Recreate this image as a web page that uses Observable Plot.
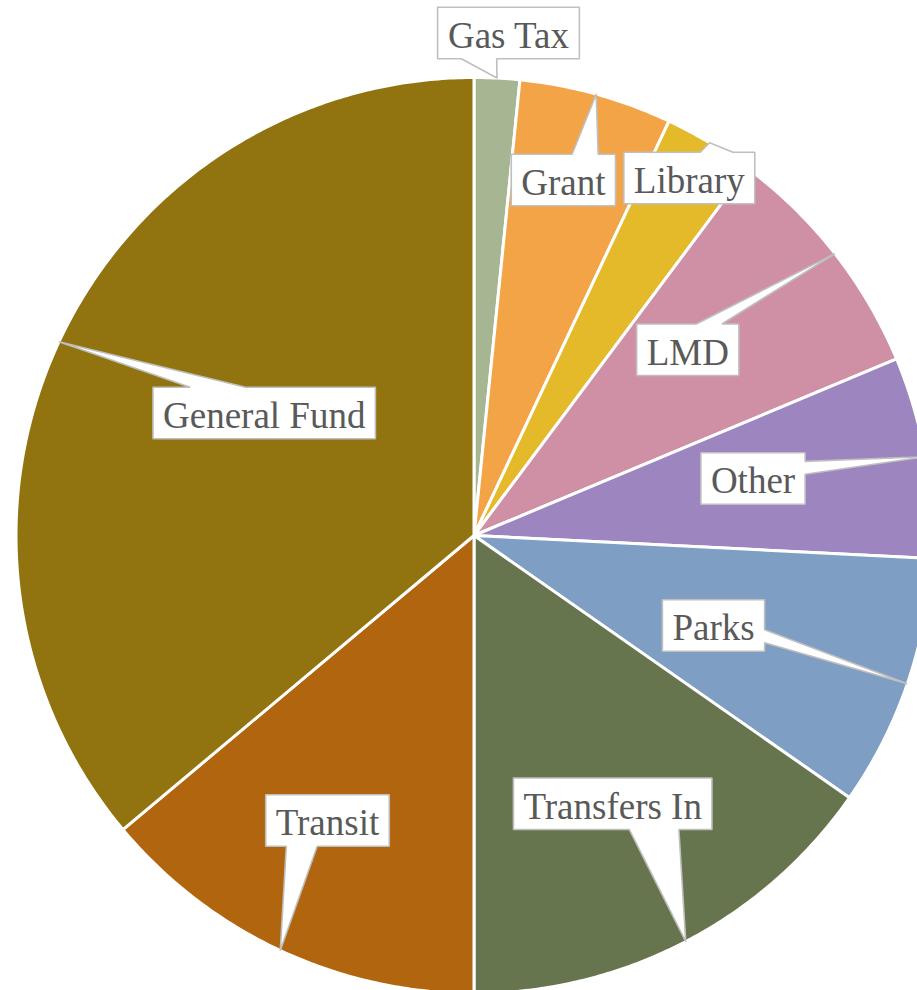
<!DOCTYPE html>
<html><head><meta charset="utf-8">
<script src="https://cdn.jsdelivr.net/npm/d3@7"></script>
<script src="https://cdn.jsdelivr.net/npm/@observablehq/plot@0.6"></script>
<style>
html,body{margin:0;padding:0;background:#fff;overflow:hidden;}
#chart svg{display:block;}
</style>
</head><body><div id="chart"></div>
<script>
// ---- data (percent of total) ----
const categories = ["Gas Tax","Grant","Library","LMD","Other","Parks","Transfers In","Transit","General Fund"];
const shares = [1.6, 5.4, 3.2, 8.5, 7.1, 8.9, 15.3, 13.9, 36.1];
const colors = ["#a7b692","#f2a446","#e4ba2b","#cf90a6","#9d85c0","#7f9ec4","#67754f","#b1650e","#917410"];
// ---- layout: callout box centres relative to the pie centre (px, x right, y up) ----
const labelDX = [34.5, 89.4, 215.3, 213.8, 279, 239.5, 138.7, -146.5, -209.8];
const labelDY = [502.5, 355.5, 357.5, 185.8, 57, -90, -268.2, -285, 122.5];

const W = 917, H = 990, R = 458;
const FONT = "Liberation Serif";
const FS = 37, PADX = 10, BOXH = 51.5;

const arcs = d3.pie().sort(null).value(d => d)(shares);

// slice outlines
const slices = arcs.map((a, i) => {
  const pts = [{x: 0, y: 0}];
  const n = Math.max(2, Math.ceil((a.endAngle - a.startAngle) / (Math.PI / 360)));
  for (let k = 0; k <= n; k++) {
    const t = a.startAngle + (a.endAngle - a.startAngle) * k / n;
    pts.push({x: R * Math.sin(t), y: R * Math.cos(t)});
  }
  pts.push({x: 0, y: 0});
  return pts;
});

// text measuring
const ctx = document.createElement("canvas").getContext("2d");
ctx.font = `${FS}px "${FONT}", serif`;

// callout shapes (wedgeRectCallout)
const callouts = [];
const labels = [];
arcs.forEach((a, i) => {
  const mid = (a.startAngle + a.endAngle) / 2;
  const tx = R * Math.sin(mid), ty = R * Math.cos(mid);
  const cx = labelDX[i], cy = labelDY[i];
  const w = ctx.measureText(categories[i]).width + 2 * PADX, h = BOXH;
  const l = cx - w / 2, r = cx + w / 2, top = cy + h / 2, bot = cy - h / 2;
  const dxp = tx - cx, dyp = ty - cy;
  const dz = Math.abs(dyp) - Math.abs(dxp * h / w);
  let side;
  if (dz > 0) side = dyp > 0 ? "top" : "bottom";
  else side = dxp > 0 ? "right" : "left";
  const xa = dxp > 0 ? l + w * 7 / 12 : l + w * 2 / 12;
  const xb = dxp > 0 ? l + w * 10 / 12 : l + w * 5 / 12;
  const ya = dyp > 0 ? top - h * 2 / 12 : top - h * 7 / 12;
  const yb = dyp > 0 ? top - h * 5 / 12 : top - h * 10 / 12;
  const p = [[l, top]];
  if (side === "top") p.push([xa, top], [tx, ty], [xb, top]);
  p.push([r, top]);
  if (side === "right") p.push([r, ya], [tx, ty], [r, yb]);
  p.push([r, bot]);
  if (side === "bottom") p.push([xb, bot], [tx, ty], [xa, bot]);
  p.push([l, bot]);
  if (side === "left") p.push([l, yb], [tx, ty], [l, ya]);
  p.push([l, top]);
  p.forEach(([x, y]) => callouts.push({name: categories[i], x, y}));
  labels.push({name: categories[i], x: cx, y: cy});
});

const chart = Plot.plot({
  width: W, height: H,
  marginTop: 0, marginRight: 0, marginBottom: 0, marginLeft: 0,
  x: {domain: [-473.5, 443.5], range: [0, W], axis: null},
  y: {domain: [-455, 535], range: [H, 0], axis: null},
  style: {background: "#fff", overflow: "hidden"},
  marks: [
    ...slices.map((pts, i) => Plot.line(pts, {
      x: "x", y: "y", fill: colors[i], stroke: "white", strokeWidth: 3, strokeLinejoin: "round"
    })),
    Plot.line(callouts, {x: "x", y: "y", z: "name", fill: "white", stroke: "#bfbfbf", strokeWidth: 1.6, strokeLinejoin: "miter"}),
    Plot.text(labels, {x: "x", y: "y", text: "name", fontSize: FS, fontFamily: FONT, fill: "#595959",
      textAnchor: "middle", lineAnchor: "middle", dy: 3})
  ]
});
document.getElementById("chart").appendChild(chart);
</script>
</body></html>
